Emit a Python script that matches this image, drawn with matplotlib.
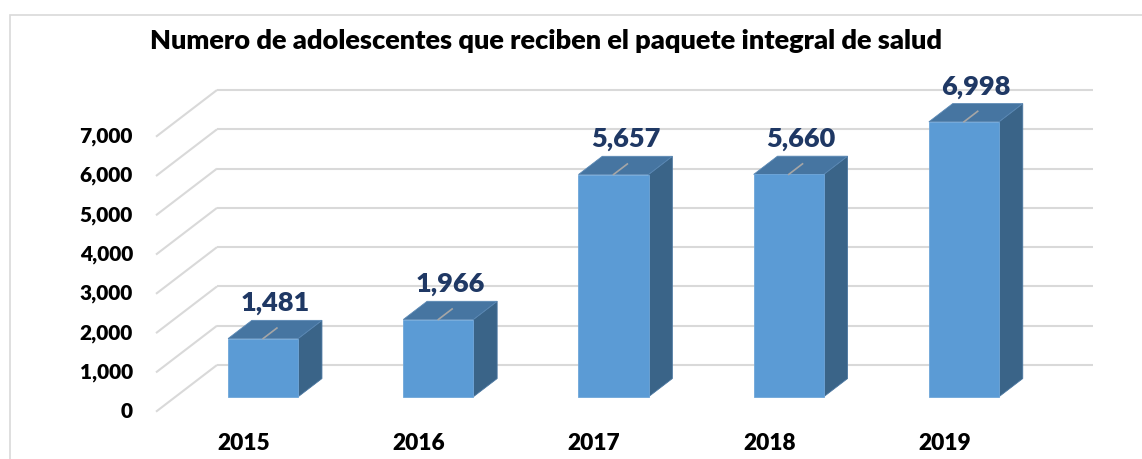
import matplotlib
matplotlib.use("Agg")
import matplotlib.pyplot as plt
from matplotlib.patches import Polygon, Rectangle

plt.rcParams['font.family'] = ['Lato', 'DejaVu Sans']

# ---- data ----
years = ["2015", "2016", "2017", "2018", "2019"]
values = [1481, 1966, 5657, 5660, 6998]
yticks = [0, 1000, 2000, 3000, 4000, 5000, 6000, 7000]
ytick_labels = ["0", "1,000", "2,000", "3,000", "4,000", "5,000", "6,000", "7,000"]
title = "Numero de adolescentes que reciben el paquete integral de salud"

# ---- style / geometry ----
W, H = 1142, 459
fig = plt.figure(figsize=(W / 100, H / 100), dpi=100)
ax = fig.add_axes([0, 0, 1, 1])
ax.axis("off")

slot_px = 175.2          # pixels per category slot on front plane
x0_px = 156.0            # front plane left edge
y0_px = 47.3             # value 0 from bottom (px)
ppu = 275.0 / 7000       # pixels per value unit
ax.set_xlim(-x0_px / slot_px, (W - x0_px) / slot_px)
ax.set_ylim(-y0_px / ppu, (H - y0_px) / ppu)

Dx = 61.0 / slot_px       # depth offset in data units
Dy = 46.7 / ppu
f0, f1 = 0.32, 0.71       # bar depth range
bw = 0.40                 # bar width fraction of slot
n = len(years)

grid_c = "#d9d9d9"
front_c = "#5b9bd5"
top_c = "#4675a1"
side_c = "#3a6488"
lab_c = "#1f3864"
WT = "heavy"

# gridlines: back wall + left wall diagonals
for t in yticks:
    ax.plot([Dx, n + Dx], [t + Dy, t + Dy], color=grid_c, lw=1.5, zorder=1,
            solid_capstyle="butt")
    ax.plot([0, Dx], [t, t + Dy], color=grid_c, lw=1.5, zorder=1,
            solid_capstyle="butt")

# tick labels
for t, lab in zip(yticks, ytick_labels):
    ax.annotate(lab, xy=(0, t), xytext=(-23, 0), textcoords="offset pixels",
                ha="right", va="center", fontsize=15, fontweight=WT,
                color="black")

# bars
for i, (yr, v) in enumerate(zip(years, values)):
    xl = i + 0.5 - bw / 2
    xr = i + 0.5 + bw / 2
    a = (f0 * Dx, f0 * Dy)
    b = (f1 * Dx, f1 * Dy)
    front = Polygon([(xl + a[0], a[1]), (xr + a[0], a[1]),
                     (xr + a[0], v + a[1]), (xl + a[0], v + a[1])],
                    closed=True, facecolor=front_c, edgecolor="#6fa6d9", lw=0.6, zorder=3)
    top = Polygon([(xl + a[0], v + a[1]), (xr + a[0], v + a[1]),
                   (xr + b[0], v + b[1]), (xl + b[0], v + b[1])],
                  closed=True, facecolor=top_c, edgecolor="#5a88b4", lw=0.6, zorder=3)
    side = Polygon([(xr + a[0], a[1]), (xr + b[0], b[1]),
                    (xr + b[0], v + b[1]), (xr + a[0], v + a[1])],
                   closed=True, facecolor=side_c, edgecolor="#4a76a0", lw=0.6, zorder=3)
    for p in (side, top, front):
        ax.add_patch(p)
    # leader line
    xc = i + 0.5
    ax.plot([xc + a[0], xc + (f0 + 0.58 * (f1 - f0)) * Dx],
            [v + a[1], v + (f0 + 0.58 * (f1 - f0)) * Dy],
            color="#a6a6a6", lw=1.2, zorder=4)
    # data label
    mid = 0.5 * (f0 + f1)
    ax.annotate(f"{v:,}", xy=(xc + mid * Dx, v + mid * Dy), xytext=(0, 26),
                textcoords="offset pixels", ha="center", va="center",
                fontsize=19.5, fontweight=WT, color=lab_c, zorder=5)
    # category label
    ax.annotate(yr, xy=(xc, 0), xytext=(0, -32), textcoords="offset pixels",
                ha="center", va="center", fontsize=16.3, fontweight=WT,
                color="black")

# title
fig.text(546 / W, 1 - 41 / H, title, ha="center", va="center",
         fontsize=19.5, fontweight=WT, color="black")

# chart frame
fig.patches.append(Rectangle((10 / W, -0.2), 1.5, 1.2 - 15 / H,
                             transform=fig.transFigure, fill=False,
                             edgecolor=grid_c, lw=1.2))

fig.savefig("out.png", dpi=100, facecolor="white")
